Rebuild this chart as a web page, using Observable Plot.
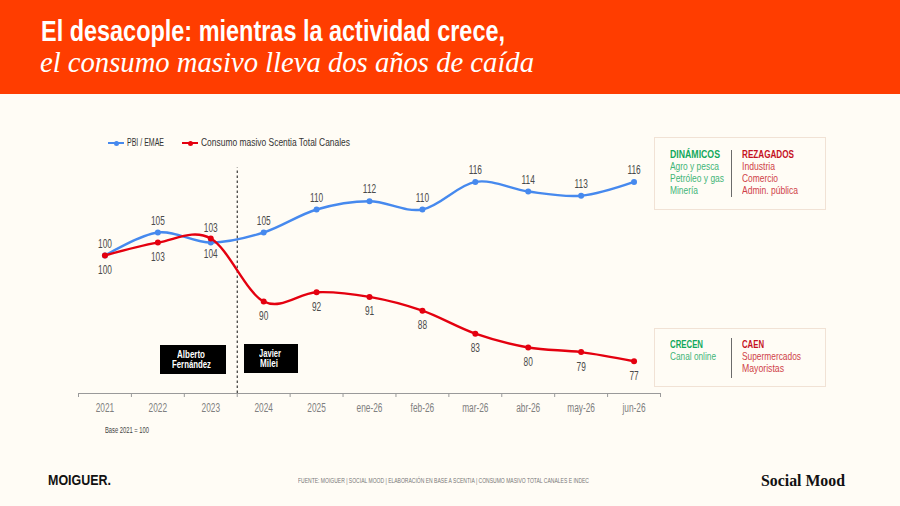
<!DOCTYPE html>
<html><head><meta charset="utf-8">
<script src="https://cdn.jsdelivr.net/npm/d3@7"></script>
<script src="https://cdn.jsdelivr.net/npm/@observablehq/plot@0.6"></script>
<style>
html,body{margin:0;padding:0;background:#fffcf5;width:900px;height:506px;overflow:hidden}
#page{position:relative;width:900px;height:506px;font-family:"Liberation Sans",sans-serif}
#page>*{position:absolute}
#band{left:0;top:0;width:900px;height:94px;background:#ff3d00}
.t{white-space:nowrap;line-height:1;transform-origin:left center;display:inline-block}
#chart{left:0;top:94px}
.box{border:1.5px solid #f1e2d5;box-sizing:border-box;left:654px;width:172px}
.div{left:731px;width:1px;background:#6b6b6b}
.g{color:#12a85c}.gl{color:#3fb578}.r{color:#c5121f}.rl{color:#cf3f48}
.cand{background:#000}
</style></head><body>
<div id="page">
<div id="band"></div>
<div id="chart"></div>
</div>
<script>
const categories=["2021","2022","2023","2024","2025","ene-26","feb-26","mar-26","abr-26","may-26","jun-26"];
const pbiValues=[100,105,102.8,105,110,111.8,110,116,113.9,113,116];
const pbiLabels=[100,105,104,105,110,112,110,116,114,113,116];
const consumoValues=[100,102.8,103.7,90,92,91,88,83,80,79,77];
const consumoLabels=[100,103,103,90,92,91,88,83,80,79,77];
const eraBoundary=2.5;
const blue="#4689ee",red="#e4000f";
const font='"Liberation Sans",sans-serif';
const idx=categories.map((_,i)=>i);
const edges=[...idx.map(i=>i-0.5),categories.length-0.5];
const pbi=idx.map(i=>({i,v:pbiValues[i],label:String(pbiLabels[i])}));
const consumo=idx.map(i=>({i,v:consumoValues[i],label:String(consumoLabels[i])}));
const curve=d3.curveCatmullRom.alpha(0);
const yMin=70,yMax=119;
const labelStyle={x:"i",y:"v",text:"label",fontSize:12.5,fill:"#4a4a4a"};
const chart=Plot.plot({
  width:900,height:412,marginLeft:78,marginRight:240,marginTop:73.6,marginBottom:113,
  style:{background:"transparent",fontFamily:font},
  x:{type:"linear",domain:[-0.5,categories.length-0.5]},
  y:{domain:[yMin,yMax],axis:null},
  marks:[
    Plot.ruleY([yMin],{stroke:"#9a9a9a",strokeWidth:1}),
    Plot.axisX({ticks:edges,tickSize:4,tickFormat:()=>"",stroke:"#9a9a9a",label:null}),
    Plot.axisX({ticks:idx,tickSize:0,tickPadding:10,tickFormat:i=>categories[i],fontSize:12.5,fill:"#808080",label:null}),
    Plot.ruleX([eraBoundary],{y1:yMin,y2:yMax,stroke:"#111",strokeWidth:1,strokeDasharray:"2.5,2.5"}),
    Plot.line(pbi,{x:"i",y:"v",stroke:blue,strokeWidth:2.4,curve}),
    Plot.dot(pbi,{x:"i",y:"v",fill:blue,r:3}),
    Plot.line(consumo,{x:"i",y:"v",stroke:red,strokeWidth:2.4,curve}),
    Plot.dot(consumo,{x:"i",y:"v",fill:red,r:3}),
    Plot.text(pbi.filter(d=>d.i!==2),{...labelStyle,dy:-12}),
    Plot.text(pbi.filter(d=>d.i===2),{...labelStyle,dy:11}),
    Plot.text(consumo.filter(d=>d.i!==2),{...labelStyle,dy:14.5}),
    Plot.text(consumo.filter(d=>d.i===2),{...labelStyle,dy:-10})
  ]
});
document.getElementById("chart").appendChild(chart);
chart.querySelectorAll("text").forEach(t=>{
  const len=t.getComputedTextLength();
  if(len>0){t.setAttribute("textLength",(len*0.665).toFixed(2));t.setAttribute("lengthAdjust","spacingAndGlyphs");}
});

const page=document.getElementById("page");
// places a real text line and condenses it to the width it has in the reference
function el(html,left,top,width,css,cls){
  const d=document.createElement("div");d.className="t "+(cls||"");d.innerHTML=html;
  d.style.cssText+=`left:${left}px;top:${top}px;`+(css||"");
  page.appendChild(d);
  const r=d.getBoundingClientRect().width;
  d.style.transform=`scaleX(${width/r})`;
  return d;
}
function box(top,h,divTop,divH){
  const b=document.createElement("div");b.className="box";b.style.top=top+"px";b.style.height=h+"px";page.appendChild(b);
  const v=document.createElement("div");v.className="div";v.style.top=divTop+"px";v.style.height=divH+"px";page.appendChild(v);
}
el("El desacople: mientras la actividad crece,",41,16,464,"color:#fff;font-size:30px;font-weight:bold");
el("el consumo masivo lleva dos años de caída",40,47,494,"color:#fff;font-size:30px;font-family:'Liberation Serif',serif;font-style:italic");

box(137,73,150,47);box(328,59,338,40);
const head="font-size:11.5px;font-weight:bold",line="font-size:11.5px";
[["DINÁMICOS",670,148.5,50,head,"g"],["Agro y pesca",670,161,49,line,"gl"],["Petróleo y gas",670,173,54,line,"gl"],["Minería",670,185,28,line,"gl"],
 ["REZAGADOS",742,148.5,52,head,"r"],["Industria",742,161,33,line,"rl"],["Comercio",742,173,36,line,"rl"],["Admin. pública",742,185,56,line,"rl"],
 ["CRECEN",670,338.5,33,head,"g"],["Canal online",670,351,46,line,"gl"],
 ["CAEN",742,338.5,22,head,"r"],["Supermercados",742,351,59,line,"rl"],["Mayoristas",742,363,42,line,"rl"]
].forEach(([s,x,y,w,c,k])=>el(s,x,y,w,c,k));

[[160,345,66,29],[244,344,54,29]].forEach(([x,y,w,h])=>{
  const d=document.createElement("div");d.className="cand";
  d.style.cssText+=`left:${x}px;top:${y}px;width:${w}px;height:${h}px`;page.appendChild(d);
});
const cand="color:#fff;font-size:10.5px;font-weight:bold";
el("Alberto",177,348.5,28,cand);el("Fernández",172,359,39,cand);
el("Javier",258.5,347.5,22,cand);el("Milei",260,358,18,cand);
// legend
function swatch(x,c){
  const s=document.createElement("div");
  s.style.cssText=`left:${x}px;top:142px;width:16px;height:2px;background:${c}`;page.appendChild(s);
  const o=document.createElement("div");
  o.style.cssText=`left:${x+5.5}px;top:140.5px;width:5px;height:5px;border-radius:50%;background:${c}`;page.appendChild(o);
}
swatch(108,blue);swatch(182,red);
const leg="font-size:11.5px;color:#333";
el("PBI / EMAE",127,137,37,leg);
el("Consumo masivo Scentia Total Canales",201,137,149,leg);
el("Base 2021 = 100",105,426,44,"font-size:8.5px;color:#444");
el("FUENTE:  MOIGUER | SOCIAL MOOD | ELABORACIÓN EN BASE A SCENTIA | CONSUMO MASIVO TOTAL CANALES E INDEC",298,477,291,"font-size:7.5px;color:#777");
el("MOIGUER.",48,473,63,"font-size:14px;font-weight:bold;color:#111");
el("Social Mood",761,471.5,84,"font-size:17px;font-weight:bold;color:#111;font-family:'Liberation Serif',serif");
</script>
</body></html>
